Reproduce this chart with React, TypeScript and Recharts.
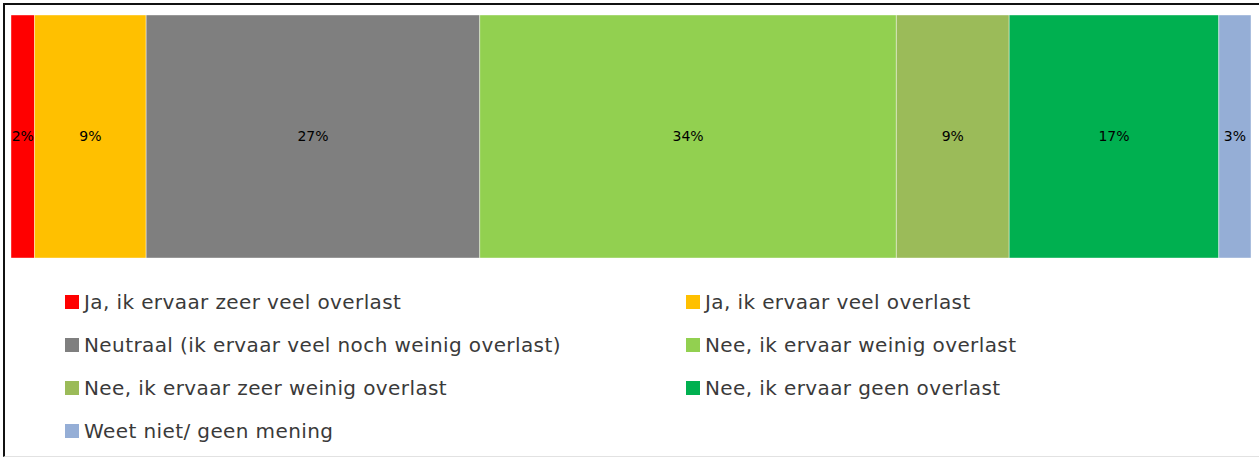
import { BarChart, Bar, XAxis, YAxis, Legend, LabelList } from "recharts";

const categories = ["Overlast"];
const seriesNames = [
  "Ja, ik ervaar zeer veel overlast",
  "Ja, ik ervaar veel overlast",
  "Neutraal (ik ervaar veel noch weinig overlast)",
  "Nee, ik ervaar weinig overlast",
  "Nee, ik ervaar zeer weinig overlast",
  "Nee, ik ervaar geen overlast",
  "Weet niet/ geen mening",
];
const seriesValues = [1.9, 9.0, 26.9, 33.6, 9.1, 16.9, 2.6];
const seriesColors = ["#ff0000", "#ffc000", "#7f7f7f", "#92d050", "#9bbb59", "#00b050", "#95aed6"];

const data = categories.map((cat) => {
  const row: Record<string, string | number> = { cat };
  seriesNames.forEach((name, i) => {
    row[`s${i}`] = seriesValues[i];
  });
  return row;
});

const FONT = "'DejaVu Sans', sans-serif";

/* legend laid out in two columns like the Excel original */
function GridLegend() {
  return (
    <div
      style={{
        display: "grid",
        gridTemplateColumns: "621px 1fr",
        gridAutoRows: "43px",
        paddingLeft: 60,
        fontFamily: FONT,
        fontSize: 20,
        letterSpacing: 0.4,
        color: "#3a3a3a",
        textAlign: "left",
      }}
    >
      {seriesNames.map((name, i) => (
        <div key={name} style={{ display: "flex", alignItems: "center" }}>
          <span
            style={{
              width: 14,
              height: 14,
              background: seriesColors[i],
              marginRight: 5,
              flex: "none",
            }}
          />
          <span style={{ whiteSpace: "nowrap" }}>{name}</span>
        </div>
      ))}
    </div>
  );
}

export default function App() {
  return (
    <div
      style={{
        position: "fixed",
        left: 3,
        top: 3,
        width: 1256,
        height: 454,
        boxSizing: "border-box",
        borderLeft: "2px solid #111",
        borderTop: "2px solid #111",
        borderBottom: "1px solid #e2e2e2",
        background: "#fff",
      }}
    >
      <BarChart
        width={1252}
        height={450}
        data={data}
        layout="vertical"
        barCategoryGap={0}
        margin={{ top: 10, left: 6, right: 6, bottom: 197 }}
      >
        <XAxis type="number" domain={[0, 100]} hide />
        <YAxis type="category" dataKey="cat" hide />
        <Legend
          content={() => <GridLegend />}
          wrapperStyle={{ position: "absolute", left: 0, top: 275, width: 1252, height: 0, overflow: "visible" }}
        />
        {seriesNames.map((name, i) => (
          <Bar
            key={name}
            dataKey={`s${i}`}
            name={name}
            stackId="a"
            fill={seriesColors[i]}
            stroke="#ffffff"
            strokeOpacity={0.4}
            strokeWidth={1}
            isAnimationActive={false}
          >
            <LabelList
              dataKey={`s${i}`}
              position="center"
              formatter={(v: number) => `${Math.round(v)}%`}
              style={{ fontFamily: FONT, fontSize: 14, fill: "#000" }}
            />
          </Bar>
        ))}
      </BarChart>
    </div>
  );
}
